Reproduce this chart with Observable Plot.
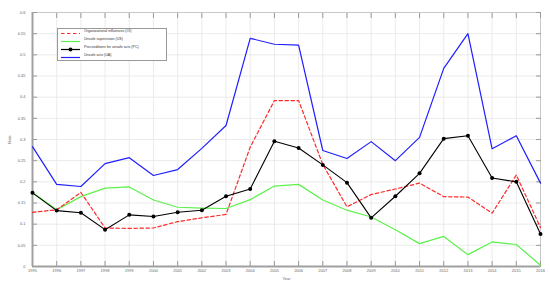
<!DOCTYPE html>
<html>
<head>
<meta charset="utf-8">
<script src="https://cdn.jsdelivr.net/npm/d3@7"></script>
<script src="https://cdn.jsdelivr.net/npm/@observablehq/plot@0.6"></script>
<style>
  html, body { margin: 0; padding: 0; background: #fff; }
  #wrap { position: relative; width: 550px; height: 287px; font-family: "Liberation Sans", Arial, sans-serif; }
  #legend { position: absolute; left: 57px; top: 28px; width: 110px; height: 33px; background: #fff; border: 1px solid #999; box-sizing: border-box; font-size: 3.6px; color: #333; }
  .row { position: absolute; left: 2px; height: 8px; display: flex; align-items: center; }
  .row svg { display: block; margin-right: 3px; }
</style>
</head>
<body>
<div id="wrap"><div id="chart"></div><div id="legend"></div></div>
<script>
const years = [1995,1996,1997,1998,1999,2000,2001,2002,2003,2004,2005,2006,2007,2008,2009,2010,2011,2012,2013,2014,2015,2016];
const organizationalInfluences = [0.128,0.134,0.175,0.091,0.090,0.091,0.106,0.115,0.123,0.282,0.392,0.392,0.241,0.141,0.170,0.183,0.197,0.165,0.164,0.126,0.216,0.092];
const unsafeSupervision = [0.175,0.134,0.165,0.185,0.188,0.157,0.140,0.138,0.137,0.158,0.190,0.194,0.157,0.133,0.117,0.087,0.054,0.071,0.028,0.058,0.052,0.003];
const preconditions = [0.174,0.132,0.127,0.087,0.122,0.118,0.128,0.133,0.166,0.183,0.296,0.280,0.240,0.198,0.115,0.166,0.220,0.302,0.309,0.209,0.200,0.077];
const unsafeActs = [0.283,0.194,0.189,0.243,0.257,0.215,0.229,0.279,0.333,0.539,0.525,0.523,0.274,0.255,0.295,0.250,0.305,0.468,0.550,0.278,0.309,0.197];
const seriesNames = ["Organizational influences (OI)","Unsafe supervision (US)","Preconditions for unsafe acts (PC)","Unsafe acts (UA)"];
const yTicks = [0,0.05,0.1,0.15,0.2,0.25,0.3,0.35,0.4,0.45,0.5,0.55,0.6];

const colors = {red: "#ff2a2a", green: "#5cf24a", black: "#000000", blue: "#1f1fff"};
const rows = (vals) => years.map((y, i) => ({year: y, value: vals[i]}));
const fs = 4;
const yFmt = d => String(+d.toFixed(2));

const chart = Plot.plot({
  width: 550,
  height: 287,
  marginLeft: 32,
  marginRight: 10,
  marginTop: 12,
  marginBottom: 21,
  style: {fontFamily: "Liberation Sans, Arial, sans-serif", fontSize: "4px", color: "#555", background: "#fff"},
  x: {domain: [1995, 2016], ticks: years, tickFormat: "d"},
  y: {domain: [0, 0.6], ticks: yTicks, tickFormat: yFmt},
  marks: [
    Plot.gridX(years, {stroke: "#e6e6e6", strokeOpacity: 1, strokeWidth: 0.8}),
    Plot.gridY(yTicks, {stroke: "#e6e6e6", strokeOpacity: 1, strokeWidth: 0.8}),
    Plot.frame({stroke: "#c8c8c8", strokeWidth: 1}),
    Plot.axisX(years, {anchor: "bottom", tickSize: 5, dy: -5, text: null, stroke: "#999", label: null}),
    Plot.axisX(years, {anchor: "top", tickSize: 5, dy: 5, text: null, stroke: "#999", label: null}),
    Plot.axisY(yTicks, {anchor: "left", tickSize: 5, dx: 5, text: null, stroke: "#999", label: null}),
    Plot.axisY(yTicks, {anchor: "right", tickSize: 5, dx: -5, text: null, stroke: "#999", label: null}),
    Plot.axisX(years, {anchor: "bottom", tickSize: 0, tickPadding: 3, tickFormat: "d", fontSize: fs, fill: "#666", label: "Year", labelAnchor: "center", labelOffset: 13, labelArrow: "none"}),
    Plot.axisY(yTicks, {anchor: "left", tickSize: 0, tickPadding: 7, tickFormat: yFmt, fontSize: fs, fill: "#666", label: "Rate", labelAnchor: "center", labelOffset: 24, labelArrow: "none"}),
    Plot.ruleX([1995], {stroke: "#a0a0a0", strokeWidth: 2}),
    Plot.ruleY([0], {stroke: "#a0a0a0", strokeWidth: 2}),
    Plot.line(rows(unsafeSupervision), {x: "year", y: "value", stroke: colors.green, strokeWidth: 1.2}),
    Plot.line(rows(organizationalInfluences), {x: "year", y: "value", stroke: colors.red, strokeWidth: 1.2, strokeDasharray: "3.5,2.5"}),
    Plot.line(rows(unsafeActs), {x: "year", y: "value", stroke: colors.blue, strokeWidth: 1.2}),
    Plot.line(rows(preconditions), {x: "year", y: "value", stroke: colors.black, strokeWidth: 1.1}),
    Plot.dot(rows(preconditions), {x: "year", y: "value", fill: colors.black, r: 2})
  ]
});
document.getElementById("chart").appendChild(chart);

// legend
const legend = document.getElementById("legend");
const swatches = [
  {color: colors.red, dash: "3.5,2.5", marker: false},
  {color: colors.green, dash: null, marker: false},
  {color: colors.black, dash: null, marker: true},
  {color: colors.blue, dash: null, marker: false}
];
const tops = [1, 9, 17, 25];
seriesNames.forEach((name, i) => {
  const s = swatches[i];
  const row = document.createElement("div");
  row.className = "row";
  row.style.top = (tops[i] - 1) + "px";
  row.innerHTML = `<svg width="21" height="8"><line x1="1" x2="20" y1="4.5" y2="4.5" stroke="${s.color}" stroke-width="1.2" ${s.dash ? `stroke-dasharray="${s.dash}"` : ""}/>${s.marker ? `<circle cx="10.5" cy="4.5" r="2" fill="${s.color}"/>` : ""}</svg><span style="position:relative;top:-2px">${name}</span>`;
  legend.appendChild(row);
});
</script>
</body>
</html>
